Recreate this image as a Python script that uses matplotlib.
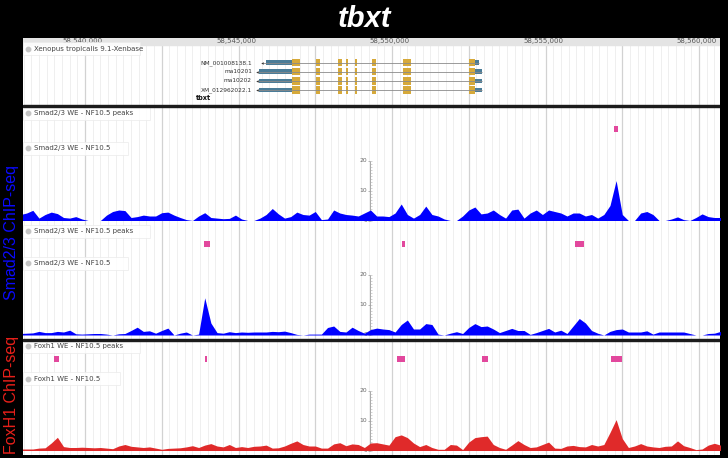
"""
tbxt locus: Xenbase gene track with Smad2/3 and Foxh1 ChIP-seq coverage
"""

import matplotlib
matplotlib.use('Agg')
import matplotlib.pyplot as plt
from matplotlib.patches import Rectangle
import numpy as np

W, H, DPI = 728, 458, 100

# genomic window shown (bp)
X_START = 58537980
X_END = 58560684
BP_PER_PX = 32.57

ruler_ticks = [58540000, 58545000, 58550000, 58555000, 58560000]

# coverage tracks, one value every 200 bp starting at SIG_START
SIG_START = 58537900
SIG_STEP = 200

smad_a = [2.0,
          2.5, 3.4, 0.8, 2.0, 2.8, 2.3, 1.0, 0.8, 1.3, 0.5,
          0, 0, 0, 1.8, 3.0, 3.5, 3.3, 1.0, 1.3, 1.8,
          1.5, 1.5, 2.6, 2.8, 1.8, 1.0, 0.3, 0, 1.5, 2.6,
          1.0, 0.8, 0.6, 0.7, 1.8, 0.5, 0, 0, 0.8, 2.0,
          4.0, 2.2, 0.8, 1.3, 2.8, 2.0, 1.8, 3.0, 0.3, 0.5,
          3.5, 2.5, 2.0, 1.8, 1.5, 2.5, 3.5, 1.5, 1.5, 1.3,
          2.5, 5.5, 2.0, 0.8, 2.0, 4.8, 2.0, 1.5, 0.5, 0,
          0, 1.5, 3.5, 4.5, 2.2, 2.5, 3.5, 2.0, 0.8, 3.5,
          3.8, 0.8, 2.5, 3.5, 2.0, 3.5, 3.0, 2.5, 1.5, 2.5,
          2.5, 1.5, 2.0, 0.8, 2.0, 5.0, 13.3, 2.0, 0, 0,
          2.5, 3.0, 2.0, 0, 0, 0.5, 1.2, 0.3, 0, 1.0,
          2.2, 1.3, 1.0, 1.0]

smad_b = [0.5,
          0.6, 0.7, 1.2, 0.8, 0.8, 1.2, 1.0, 1.6, 0.4, 0.3,
          0.4, 0.5, 0.5, 0.3, 0, 0.4, 0.5, 1.5, 2.6, 1.2,
          1.4, 0.6, 1.5, 2.3, 0, 0.6, 1.0, 0, 0.3, 12.4,
          4.0, 0.8, 0.6, 1.1, 0.8, 1.0, 0.9, 1.0, 1.0, 1.0,
          1.2, 1.1, 1.3, 0.8, 0.2, 0, 0.3, 0.3, 0.3, 2.5,
          3.0, 1.2, 1.0, 2.6, 1.5, 0.6, 1.8, 2.3, 2.0, 1.8,
          1.0, 3.5, 5.0, 2.0, 2.0, 3.8, 3.5, 0.3, 0, 0.6,
          1.1, 0.5, 2.5, 3.8, 2.8, 3.0, 2.0, 0.8, 1.5, 2.2,
          1.5, 1.5, 0.2, 0.8, 1.5, 2.2, 1.0, 1.6, 0.5, 3.0,
          5.5, 4.0, 1.5, 0.6, 0, 1.2, 1.8, 2.0, 1.0, 1.0,
          1.0, 1.4, 0.3, 1.0, 1.0, 1.0, 1.0, 1.0, 0.5, 0,
          0, 0.5, 0.6, 1.2]

foxh1 = [0.5,
         0.5, 0.5, 0.8, 0.9, 2.5, 4.4, 1.3, 1.0, 1.0, 1.1,
         1.0, 0.9, 1.0, 0.8, 0.6, 1.5, 2.0, 1.4, 1.2, 1.0,
         1.2, 0.8, 0.4, 0.7, 0.8, 0.9, 1.2, 1.6, 1.0, 1.8,
         2.3, 1.5, 1.2, 2.0, 1.0, 1.3, 1.0, 1.4, 1.5, 1.8,
         0.8, 0.9, 1.5, 2.4, 3.2, 2.0, 1.5, 1.5, 0.8, 0.8,
         2.2, 2.6, 1.6, 2.2, 2.0, 1.0, 2.5, 2.6, 2.2, 1.8,
         4.6, 5.2, 4.3, 2.5, 1.3, 2.0, 1.0, 0.4, 0.4, 2.0,
         1.8, 0.3, 2.8, 4.3, 4.6, 4.8, 2.0, 1.0, 0.4, 1.8,
         3.3, 2.0, 1.0, 1.2, 2.0, 2.8, 0.8, 0.7, 1.5, 1.7,
         1.3, 1.2, 2.0, 1.5, 2.0, 6.0, 10.3, 4.0, 1.0, 1.5,
         2.3, 1.5, 1.2, 1.0, 1.4, 1.5, 3.2, 1.6, 1.0, 0.3,
         0.5, 1.8, 2.4, 1.8]

# called peaks (start, end)
smad_a_peaks = [(58557230, 58557370)]
smad_b_peaks = [(58543876, 58544081), (58550326, 58550433), (58555951, 58556264)]
foxh1_peaks = [(58539000, 58539163), (58543909, 58543974), (58550173, 58550414),
               (58552941, 58553117), (58557133, 58557501)]

# gene models (minus strand)
transcripts = ['NM_001008138.1', 'ma10201', 'ma10202', 'XM_012962022.1']
tx_left = [58545733, 58545570, 58545570, 58545570]
utr_left = [(58545886, 58546733), (58545667, 58546733),
            (58545667, 58546733), (58545667, 58546733)]
utr_right = [(58552703, 58552833), (58552703, 58552921),
             (58552703, 58552921), (58552703, 58552921)]
cds_exons = [(58546733, 58547003), (58547524, 58547654), (58548231, 58548381),
             (58548490, 58548570), (58548800, 58548855), (58549358, 58549479),
             (58550348, 58550609), (58552498, 58552703)]

SMAD_BLUE = '#0000ff'
FOX_RED = '#e02a2a'
PEAK_PINK = '#e2489d'
EXON_GOLD = '#d6a93a'
UTR_BLUE = '#4a7c98'
LABEL_COL = '#444444'


def px2bp(x):
    return X_START + (x - 23) * BP_PER_PX


fig = plt.figure(figsize=(W / DPI, H / DPI), dpi=DPI, facecolor='black')


def px_axes(x0, y0, x1, y1):
    return fig.add_axes([x0 / W, 1 - y1 / H, (x1 - x0) / W, (y1 - y0) / H])


# white panel with grid, ruler and separators (y in pixels)
bg = px_axes(23, 38, 720, 455)
bg.set_xlim(X_START, X_END)
bg.set_ylim(455, 38)
bg.set_facecolor('white')
bg.axis('off')
bg.add_patch(Rectangle((X_START, 38), X_END - X_START, 417, color='white', zorder=0))
minor = np.arange(58537750, X_END, 250)
major = np.arange(58537500, X_END, 2500)
bg.vlines(minor, 44, 455, color='#ececec', lw=0.6, zorder=1)
bg.vlines(major, 44, 455, color='#d2d2d2', lw=0.9, zorder=1)
bg.axhspan(38, 44.5, color='#e4e4e4', zorder=2)
for t in ruler_ticks:
    bg.text(t - 2 * BP_PER_PX, 41, f'{t:,}', fontsize=5, color='#555555',
            ha='center', va='center', zorder=3)
bg.axhspan(104.5, 107, color='#1c1c1c', zorder=5)
bg.axhspan(338.5, 341, color='#1c1c1c', zorder=5)


def track_label(y_px, text, right_px):
    bg.add_patch(Rectangle((X_START, y_px - 6.5), px2bp(right_px) - X_START, 13,
                           facecolor='white', alpha=0.85, edgecolor='#ebebeb', lw=0.6, zorder=3))
    bg.plot(px2bp(28.5), y_px, 'o', ms=3.2, color='#c4c4c4', zorder=4)
    bg.text(px2bp(34), y_px, text, fontsize=5, color=LABEL_COL, ha='left', va='center', zorder=4)


track_label(48.5, 'Xenopus tropicalis 9.1-Xenbase', 140)
track_label(113, 'Smad2/3 WE - NF10.5 peaks', 150)
track_label(148, 'Smad2/3 WE - NF10.5', 128)
track_label(231, 'Smad2/3 WE - NF10.5 peaks', 150)
track_label(263, 'Smad2/3 WE - NF10.5', 128)
track_label(346, 'Foxh1 WE - NF10.5 peaks', 140)
track_label(378.5, 'Foxh1 WE - NF10.5', 120)

# gene models
gx = px_axes(23, 45, 720, 104)
gx.set_xlim(X_START, X_END)
row0, row_h = 62.7, 9.1
gx.set_ylim((104 - row0) / row_h, (45 - row0) / row_h)
gx.axis('off')
gx.patch.set_alpha(0)
for i, name in enumerate(transcripts):
    gx.hlines(i, tx_left[i] + 60, utr_right[i][1], color='#8a8a8a', lw=0.6)
    gx.plot(tx_left[i] + 40, i, marker='<', ms=1.8, color='#333333', mew=0)
    for s, e in [utr_left[i], utr_right[i]]:
        gx.add_patch(Rectangle((s, i - 0.26), e - s, 0.52, color=UTR_BLUE, lw=0))
    for s, e in cds_exons:
        gx.add_patch(Rectangle((s, i - 0.4), e - s, 0.8, color=EXON_GOLD, lw=0))
    gx.text(px2bp(252), i, name, fontsize=4.2, color='#333333', ha='right', va='center')
gx.text(px2bp(196), (98 - row0) / row_h, 'tbxt', fontsize=4.8, fontweight='bold',
        color='#111111', ha='left', va='center')


def signal_track(top, bot, base, values, color, peaks, peak_top):
    ax = px_axes(23, top, 720, bot)
    ax.set_xlim(X_START, X_END)
    ax.set_ylim((base - bot) / 3, (base - top) / 3)
    ax.axis('off')
    ax.patch.set_alpha(0)
    pos = SIG_START + SIG_STEP * np.arange(len(values))
    ax.fill_between(pos, 0, values, color=color, lw=0, zorder=3)
    # y axis
    a = px2bp(370.5)
    ax.vlines(a, 0, 20, color='#9a9a9a', lw=0.6, zorder=2)
    ax.hlines(np.arange(0, 21), a, a + 2 * BP_PER_PX, color='#b0b0b0', lw=0.4, zorder=2)
    ax.hlines([0, 10, 20], a - 2 * BP_PER_PX, a, color='#9a9a9a', lw=0.5, zorder=2)
    for v in [0, 10, 20]:
        ax.text(a - 3.5 * BP_PER_PX, v, str(v), fontsize=4.3, color='#666666',
                ha='right', va='center', zorder=2)
    y0 = (base - peak_top - 6) / 3
    for s, e in peaks:
        ax.add_patch(Rectangle((s, y0), e - s, 2, color=PEAK_PINK, lw=0, zorder=3))
    return ax


signal_track(107, 223, 220.5, smad_a, SMAD_BLUE, smad_a_peaks, 126)
signal_track(223, 338, 335, smad_b, SMAD_BLUE, smad_b_peaks, 241)
signal_track(341, 455, 450.5, foxh1, FOX_RED, foxh1_peaks, 355.5)

# titles
fig.text(365 / W, 1 - 19 / H, 'tbxt', color='white', fontsize=21, fontweight='bold',
         fontstyle='italic', family='Liberation Sans', ha='center', va='center')
fig.text(11.5 / W, 1 - 232 / H, 'Smad2/3 ChIP-seq', color='#0a0aff', fontsize=11.5,
         family='Liberation Sans', rotation=90, ha='center', va='center')
fig.text(11.5 / W, 1 - 395 / H, 'FoxH1 ChIP-seq', color='#e8201a', fontsize=11.5,
         family='Liberation Sans', rotation=90, ha='center', va='center')

fig.savefig('out.png', dpi=DPI, facecolor='black')
